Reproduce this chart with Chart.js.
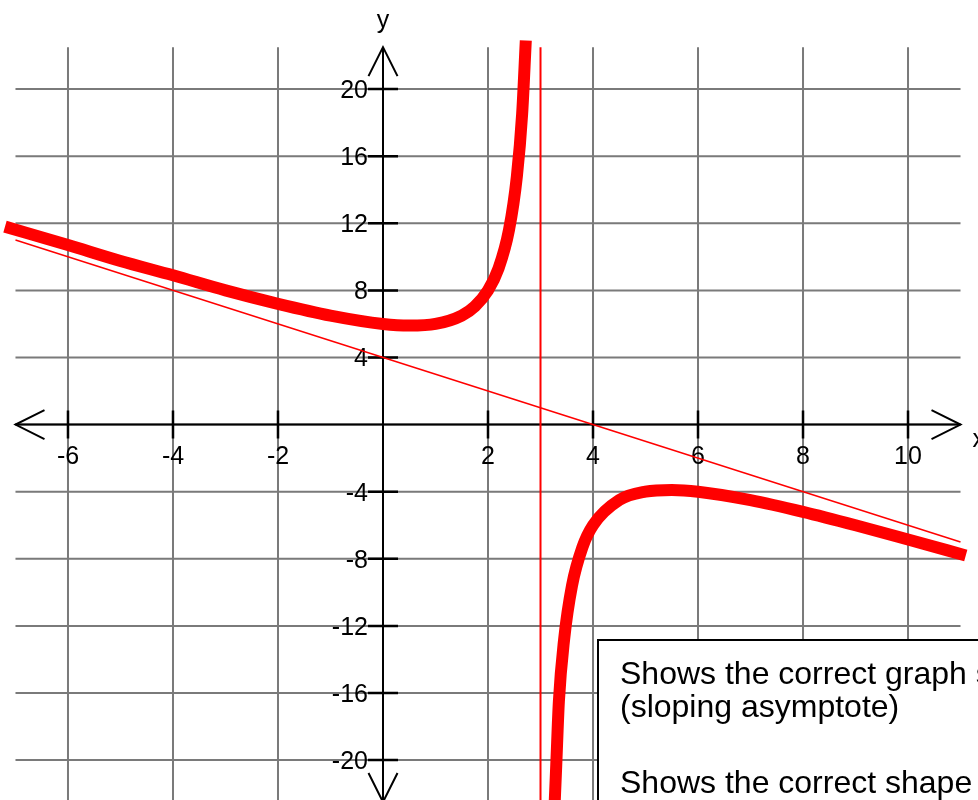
<!DOCTYPE html>
<html>
<head>
<meta charset="utf-8">
<title>Curve with vertical and sloping asymptotes</title>
<script src="https://cdn.jsdelivr.net/npm/chart.js@4.4.1/dist/chart.umd.min.js"></script>
<style>
  html, body { margin: 0; padding: 0; background: #ffffff; overflow: hidden; }
  #wrap { width: 978px; height: 800px; position: relative; }
</style>
</head>
<body>
<div id="wrap"><canvas id="chart" width="978" height="800"></canvas></div>
<script>
// Left branch of the curve (x < 3)
const leftX = [-7.2, -6, -5, -4, -3, -2, -1, 0, 0.5, 1, 1.5, 1.75, 2, 2.2, 2.4, 2.55, 2.65, 2.72];
const leftY = [11.8, 10.7, 9.75, 8.9, 8.0, 7.2, 6.5, 6.0, 5.9, 6.0, 6.5, 7.05, 8.0, 9.3, 11.6, 14.8, 18.5, 22.9];

// Right branch of the curve (x > 3)
const rightX = [3.26, 3.3, 3.35, 3.45, 3.6, 3.8, 4, 4.5, 5, 5.5, 6, 7, 8, 9, 10, 11.1];
const rightY = [-23.3, -20.3, -16.5, -12.8, -9.6, -7.3, -6.0, -4.5, -4.0, -3.9, -4.0, -4.5, -5.2, -6.0, -6.85, -7.8];

// Sloping asymptote y = 4 - x
const slantX = [-7, 11];
const slantY = [11, -7];

// Vertical asymptote x = 3
const vertX = [3, 3];
const vertY = [22.5, -23];

// Grid and tick values
const gridX = [-6, -4, -2, 0, 2, 4, 6, 8, 10];
const gridY = [-20, -16, -12, -8, -4, 0, 4, 8, 12, 16, 20];
const xTickLabels = [-6, -4, -2, 2, 4, 6, 8, 10];
const yTickLabels = [20, 16, 12, 8, 4, -4, -8, -12, -16, -20];

// Plot extents
const xExtent = [-7, 11];
const yTop = 22.5;
const yBottom = -22.5;

// Note box text
const noteLines = ["Shows the correct graph s", "(sloping asymptote)", "", "Shows the correct shape"];

const pts = (xs, ys) => xs.map((x, i) => ({ x: x, y: ys[i] }));

const FONT = '"Liberation Sans", Arial, sans-serif';

const gridAxesPlugin = {
  id: 'gridAxes',
  beforeDatasetsDraw(chart) {
    const ctx = chart.ctx;
    const xs = chart.scales.x, ys = chart.scales.y;
    const X = v => xs.getPixelForValue(v);
    const Y = v => ys.getPixelForValue(v);
    ctx.save();

    // grid
    ctx.strokeStyle = '#7a7a7a';
    ctx.lineWidth = 2;
    ctx.beginPath();
    gridX.forEach(v => {
      ctx.moveTo(X(v), Y(yTop));
      ctx.lineTo(X(v), Y(yBottom - 2));
    });
    gridY.forEach(v => {
      ctx.moveTo(X(xExtent[0]), Y(v));
      ctx.lineTo(X(xExtent[1]), Y(v));
    });
    ctx.stroke();

    // axes
    const x0 = X(0), y0 = Y(0);
    ctx.strokeStyle = '#000000';
    ctx.lineWidth = 2;
    ctx.beginPath();
    ctx.moveTo(X(xExtent[0]), y0);
    ctx.lineTo(X(xExtent[1]), y0);
    ctx.moveTo(x0, Y(yTop));
    ctx.lineTo(x0, Y(yBottom));
    ctx.stroke();

    // arrow heads (open chevrons)
    const L = 29, W = 14.5;
    const xl = X(xExtent[0]), xr = X(xExtent[1]);
    const yt = Y(yTop), yb = Y(yBottom);
    ctx.beginPath();
    ctx.moveTo(xl + L, y0 - W); ctx.lineTo(xl, y0); ctx.lineTo(xl + L, y0 + W);
    ctx.moveTo(xr - L, y0 - W); ctx.lineTo(xr, y0); ctx.lineTo(xr - L, y0 + W);
    ctx.moveTo(x0 - W, yt + L); ctx.lineTo(x0, yt); ctx.lineTo(x0 + W, yt + L);
    ctx.moveTo(x0 - W, yb - L); ctx.lineTo(x0, yb); ctx.lineTo(x0 + W, yb - L);
    ctx.stroke();

    // tick marks
    ctx.lineWidth = 2.5;
    ctx.beginPath();
    xTickLabels.forEach(v => {
      ctx.moveTo(X(v), y0 - 14);
      ctx.lineTo(X(v), y0 + 14);
    });
    yTickLabels.forEach(v => {
      ctx.moveTo(x0 - 15, Y(v));
      ctx.lineTo(x0 + 15, Y(v));
    });
    ctx.stroke();

    // tick labels
    ctx.fillStyle = '#000000';
    ctx.font = '25px ' + FONT;
    ctx.textBaseline = 'alphabetic';
    ctx.textAlign = 'center';
    xTickLabels.forEach(v => {
      ctx.fillText(String(v), X(v), y0 + 39);
    });
    ctx.textAlign = 'right';
    yTickLabels.forEach(v => {
      ctx.fillText(String(v), x0 - 15, Y(v) + 9);
    });

    // axis names
    ctx.textAlign = 'center';
    ctx.fillText('y', x0, 28);
    ctx.textAlign = 'left';
    ctx.fillText('x', xr + 12, y0 + 22);

    ctx.restore();
  },
  afterDraw(chart) {
    const ctx = chart.ctx;
    ctx.save();
    // note box in the lower right corner
    const bx = 598, by = 640;
    ctx.fillStyle = '#ffffff';
    ctx.fillRect(bx, by, 400, 200);
    ctx.strokeStyle = '#000000';
    ctx.lineWidth = 2;
    ctx.strokeRect(bx, by, 400, 200);
    ctx.fillStyle = '#000000';
    ctx.font = '32px ' + FONT;
    ctx.textAlign = 'left';
    ctx.textBaseline = 'alphabetic';
    const baselines = [684, 717, 0, 793];
    noteLines.forEach((t, i) => {
      if (t) ctx.fillText(t, 620, baselines[i]);
    });
    ctx.restore();
  }
};

new Chart(document.getElementById('chart'), {
  type: 'line',
  data: {
    datasets: [
      {
        label: 'slant',
        data: pts(slantX, slantY),
        borderColor: '#ff0000',
        borderWidth: 1.5,
        pointRadius: 0,
        tension: 0
      },
      {
        label: 'vertical',
        data: pts(vertX, vertY),
        borderColor: '#ff0000',
        borderWidth: 2,
        pointRadius: 0,
        tension: 0
      },
      {
        label: 'left branch',
        data: pts(leftX, leftY),
        borderColor: '#ff0000',
        borderWidth: 12,
        pointRadius: 0,
        cubicInterpolationMode: 'monotone'
      },
      {
        label: 'right branch',
        data: pts(rightX, rightY),
        borderColor: '#ff0000',
        borderWidth: 12,
        pointRadius: 0,
        cubicInterpolationMode: 'monotone'
      }
    ]
  },
  options: {
    responsive: false,
    animation: false,
    layout: { padding: 0 },
    plugins: {
      legend: { display: false },
      tooltip: { enabled: false }
    },
    scales: {
      x: { type: 'linear', min: -7.295, max: 11.333, display: false },
      y: { type: 'linear', min: -22.38, max: 25.31, display: false }
    }
  },
  plugins: [gridAxesPlugin]
});
</script>
</body>
</html>
